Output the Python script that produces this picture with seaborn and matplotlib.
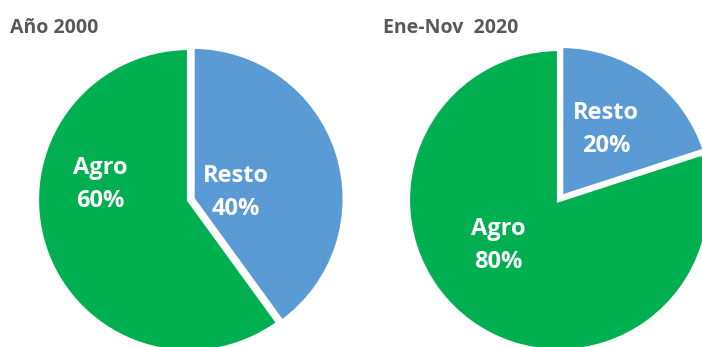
import matplotlib
matplotlib.use("Agg")
import matplotlib.pyplot as plt
import seaborn as sns

sns.set_theme(style="white")
plt.rcParams['font.family'] = ['Open Sans', 'DejaVu Sans']

categories = ["Resto", "Agro"]
values_2000 = [40, 60]
values_2020 = [20, 80]
titles = ["Año 2000", "Ene-Nov  2020"]
colors = ["#5B9BD5", "#00B050"]

W, H = 702, 347
fig = plt.figure(figsize=(W / 100, H / 100), dpi=100)

def add_pie(cx, cy, r, vals, label_pos):
    ax = fig.add_axes([(cx - r) / W, (H - cy - r) / H, 2 * r / W, 2 * r / H])
    ax.pie(vals, colors=colors, startangle=90, counterclock=False,
           explode=[0.025, 0],
           wedgeprops=dict(edgecolor="white", linewidth=3))
    ax.set_xlim(-1, 1)
    ax.set_ylim(-1, 1)
    ax.set_aspect("equal")
    ax.axis("off")
    for cat, v, (x, y) in zip(categories, vals, label_pos):
        ax.text(x, y, f"{cat}\n{v}%", ha="center", va="center", color="white",
                fontsize=17, fontweight="bold", linespacing=1.5)
    return ax

add_pie(189, 200, 152, values_2000, [(0.31, 0.05), (-0.585, 0.10)])
add_pie(559, 200, 151, values_2020, [(0.31, 0.47), (-0.40, -0.30)])

fig.text(10 / W, 1 - 28 / H, titles[0], ha="left", va="center",
         fontsize=14, fontweight="bold", color="#595959")
fig.text(383 / W, 1 - 28 / H, titles[1], ha="left", va="center",
         fontsize=14, fontweight="bold", color="#595959")

fig.savefig("out.png", dpi=100, facecolor="white")
